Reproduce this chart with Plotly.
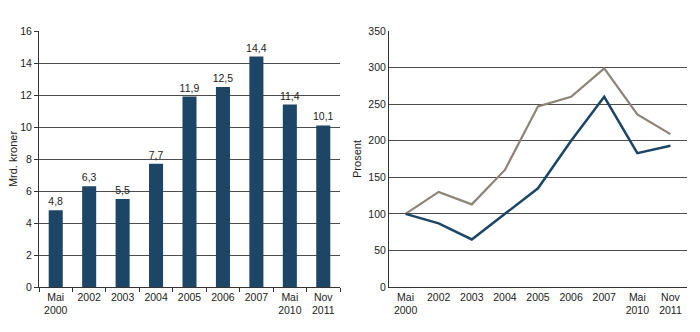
import plotly.graph_objects as go

categories = ["Mai<br>2000", "2002", "2003", "2004", "2005", "2006", "2007", "Mai<br>2010", "Nov<br>2011"]
bar_values = [4.8, 6.3, 5.5, 7.7, 11.9, 12.5, 14.4, 11.4, 10.1]
blue_line = [100, 87, 65, 100, 135, 200, 260, 183, 193]
grey_line = [100, 130, 113, 160, 247, 260, 299, 236, 209]

bar_color = "#1c4566"
grey_color = "#8c8475"
grid_color = "#4d4d4d"
font = dict(family="Liberation Sans, Arial, sans-serif", size=10.5, color="#222")

fig = go.Figure()
fig.add_trace(go.Bar(
    x=categories, y=bar_values, marker=dict(color=bar_color, line=dict(width=0)),
    width=0.42, text=[f"{v:.1f}".replace(".", ",") for v in bar_values],
    textposition="outside", constraintext="none", textfont=dict(size=10.5, color="#222"),
    cliponaxis=False, xaxis="x", yaxis="y", showlegend=False))
fig.add_trace(go.Scatter(
    x=categories, y=grey_line, mode="lines", line=dict(color=grey_color, width=2.2),
    xaxis="x2", yaxis="y2", showlegend=False))
fig.add_trace(go.Scatter(
    x=categories, y=blue_line, mode="lines", line=dict(color=bar_color, width=2.5),
    xaxis="x2", yaxis="y2", showlegend=False))

ydom = [45 / 332, 301 / 332]
common_x = dict(type="category", showline=True, linecolor="#333", linewidth=1, showgrid=False,
                tickangle=0, automargin=False, range=[-0.5, 8.5])
common_y = dict(showline=True, linecolor="#333", linewidth=1, gridcolor=grid_color, gridwidth=1,
                zeroline=False, automargin=False)
fig.update_layout(
    width=700, height=332, margin=dict(l=0, r=0, t=0, b=0),
    paper_bgcolor="white", plot_bgcolor="white", font=font,
    xaxis=dict(domain=[39 / 700, 340 / 700], ticks="outside", tickson="boundaries", ticklen=4,
               tickcolor="#333", anchor="y", **common_x),
    yaxis=dict(domain=ydom, range=[0, 16], dtick=2, ticks="outside", ticklen=4, tickcolor="#333",
               anchor="x", title=dict(text="Mrd. kroner", standoff=0, font=dict(size=11)), **common_y),
    xaxis2=dict(domain=[389 / 700, 687 / 700], ticks="", anchor="y2", **common_x),
    yaxis2=dict(domain=ydom, range=[0, 350], dtick=50, ticks="", anchor="x2",
                title=dict(text="Prosent", standoff=4, font=dict(size=11)), **common_y),
)

fig.write_html("out.html")
